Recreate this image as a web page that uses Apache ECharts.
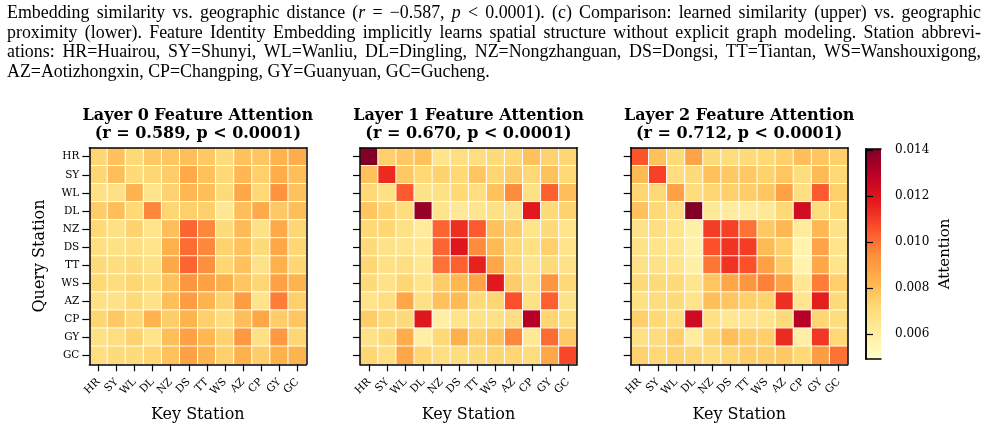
<!DOCTYPE html>
<html>
<head>
<meta charset="utf-8">
<script src="https://cdn.jsdelivr.net/npm/echarts@6/dist/echarts.min.js"></script>
<style>
  html, body { margin: 0; padding: 0; background: #fff; }
  #chart { width: 987px; height: 429px; }
</style>
</head>
<body>
<div id="chart"></div>
<script>
// station order (rows = query, cols = key)
const stations = ['HR', 'SY', 'WL', 'DL', 'NZ', 'DS', 'TT', 'WS', 'AZ', 'CP', 'GY', 'GC'];

const layerTitles = [
  'Layer 0 Feature Attention\n(r = 0.589, p < 0.0001)',
  'Layer 1 Feature Attention\n(r = 0.670, p < 0.0001)',
  'Layer 2 Feature Attention\n(r = 0.712, p < 0.0001)'
];

const layer0 = [
  [0.0073, 0.0079, 0.0072, 0.0077, 0.0078, 0.0080, 0.0077, 0.0071, 0.0079, 0.0078, 0.0083, 0.0085],
  [0.0073, 0.0080, 0.0071, 0.0073, 0.0076, 0.0086, 0.0079, 0.0072, 0.0082, 0.0075, 0.0085, 0.0080],
  [0.0068, 0.0068, 0.0083, 0.0066, 0.0074, 0.0082, 0.0080, 0.0071, 0.0087, 0.0072, 0.0093, 0.0079],
  [0.0076, 0.0080, 0.0072, 0.0096, 0.0073, 0.0075, 0.0075, 0.0064, 0.0080, 0.0086, 0.0077, 0.0080],
  [0.0072, 0.0068, 0.0074, 0.0066, 0.0080, 0.0102, 0.0096, 0.0071, 0.0081, 0.0068, 0.0086, 0.0073],
  [0.0069, 0.0068, 0.0069, 0.0066, 0.0084, 0.0101, 0.0096, 0.0074, 0.0079, 0.0071, 0.0087, 0.0073],
  [0.0071, 0.0070, 0.0071, 0.0068, 0.0087, 0.0102, 0.0094, 0.0073, 0.0079, 0.0067, 0.0084, 0.0073],
  [0.0072, 0.0070, 0.0073, 0.0070, 0.0079, 0.0092, 0.0089, 0.0084, 0.0078, 0.0073, 0.0089, 0.0083],
  [0.0068, 0.0067, 0.0071, 0.0067, 0.0080, 0.0090, 0.0083, 0.0074, 0.0090, 0.0066, 0.0098, 0.0075],
  [0.0073, 0.0077, 0.0073, 0.0083, 0.0076, 0.0083, 0.0075, 0.0070, 0.0080, 0.0087, 0.0076, 0.0078],
  [0.0068, 0.0069, 0.0074, 0.0066, 0.0080, 0.0089, 0.0082, 0.0074, 0.0091, 0.0068, 0.0091, 0.0073],
  [0.0069, 0.0071, 0.0071, 0.0073, 0.0079, 0.0089, 0.0083, 0.0075, 0.0084, 0.0076, 0.0084, 0.0083]
];

const layer1 = [
  [0.0140, 0.0075, 0.0077, 0.0079, 0.0066, 0.0069, 0.0069, 0.0071, 0.0072, 0.0079, 0.0074, 0.0073],
  [0.0079, 0.0114, 0.0077, 0.0072, 0.0074, 0.0072, 0.0078, 0.0073, 0.0076, 0.0072, 0.0079, 0.0072],
  [0.0072, 0.0068, 0.0104, 0.0067, 0.0068, 0.0072, 0.0069, 0.0079, 0.0095, 0.0068, 0.0103, 0.0080],
  [0.0078, 0.0074, 0.0070, 0.0136, 0.0066, 0.0063, 0.0065, 0.0068, 0.0067, 0.0118, 0.0071, 0.0074],
  [0.0072, 0.0073, 0.0068, 0.0062, 0.0102, 0.0113, 0.0104, 0.0079, 0.0076, 0.0066, 0.0071, 0.0066],
  [0.0071, 0.0067, 0.0066, 0.0064, 0.0102, 0.0119, 0.0095, 0.0081, 0.0072, 0.0068, 0.0075, 0.0066],
  [0.0073, 0.0068, 0.0069, 0.0064, 0.0100, 0.0103, 0.0116, 0.0087, 0.0072, 0.0066, 0.0071, 0.0067],
  [0.0071, 0.0067, 0.0073, 0.0066, 0.0076, 0.0082, 0.0088, 0.0118, 0.0076, 0.0068, 0.0092, 0.0072],
  [0.0066, 0.0069, 0.0087, 0.0068, 0.0079, 0.0081, 0.0071, 0.0073, 0.0106, 0.0068, 0.0103, 0.0067],
  [0.0076, 0.0072, 0.0071, 0.0119, 0.0060, 0.0066, 0.0067, 0.0068, 0.0069, 0.0130, 0.0073, 0.0070],
  [0.0067, 0.0071, 0.0085, 0.0060, 0.0072, 0.0084, 0.0075, 0.0079, 0.0096, 0.0063, 0.0101, 0.0077],
  [0.0073, 0.0069, 0.0087, 0.0073, 0.0069, 0.0070, 0.0071, 0.0073, 0.0073, 0.0070, 0.0087, 0.0108]
];

const layer2 = [
  [0.0105, 0.0079, 0.0071, 0.0088, 0.0071, 0.0070, 0.0071, 0.0072, 0.0075, 0.0080, 0.0078, 0.0075],
  [0.0081, 0.0109, 0.0069, 0.0071, 0.0079, 0.0077, 0.0077, 0.0074, 0.0078, 0.0070, 0.0081, 0.0072],
  [0.0073, 0.0072, 0.0089, 0.0070, 0.0073, 0.0075, 0.0076, 0.0078, 0.0089, 0.0069, 0.0104, 0.0075],
  [0.0079, 0.0072, 0.0069, 0.0140, 0.0063, 0.0061, 0.0062, 0.0063, 0.0072, 0.0123, 0.0070, 0.0072],
  [0.0067, 0.0069, 0.0066, 0.0059, 0.0110, 0.0109, 0.0100, 0.0077, 0.0082, 0.0062, 0.0082, 0.0067],
  [0.0067, 0.0066, 0.0065, 0.0058, 0.0106, 0.0112, 0.0110, 0.0081, 0.0075, 0.0057, 0.0088, 0.0066],
  [0.0067, 0.0067, 0.0066, 0.0059, 0.0099, 0.0112, 0.0106, 0.0089, 0.0076, 0.0057, 0.0087, 0.0066],
  [0.0071, 0.0071, 0.0071, 0.0065, 0.0078, 0.0087, 0.0092, 0.0097, 0.0088, 0.0064, 0.0098, 0.0075],
  [0.0068, 0.0070, 0.0071, 0.0066, 0.0080, 0.0078, 0.0075, 0.0074, 0.0113, 0.0065, 0.0117, 0.0071],
  [0.0075, 0.0072, 0.0069, 0.0124, 0.0068, 0.0064, 0.0065, 0.0066, 0.0071, 0.0130, 0.0073, 0.0070],
  [0.0068, 0.0070, 0.0075, 0.0061, 0.0073, 0.0080, 0.0076, 0.0075, 0.0114, 0.0060, 0.0111, 0.0072],
  [0.0074, 0.0072, 0.0074, 0.0073, 0.0070, 0.0073, 0.0076, 0.0076, 0.0077, 0.0072, 0.0090, 0.0100]
];

// colorbar range + ticks
const cbMin = 0.00493;
const cbMax = 0.01404;
const cbTicks = [0.006, 0.008, 0.010, 0.012, 0.014];

// YlOrRd
const ylorrd = ['#ffffcc', '#ffeda0', '#fed976', '#feb24c', '#fd8d3c', '#fc4e2a', '#e31a1c', '#bd0026', '#800026'];

// caption above the figure ({i|..} = italic)
const captionLines = [
  'Embedding similarity vs. geographic distance ({i|r} = −0.587, {i|p} < 0.0001). (c) Comparison: learned similarity (upper) vs. geographic',
  'proximity (lower).  Feature Identity Embedding implicitly learns spatial structure without explicit graph modeling.  Station abbrevi-',
  'ations: HR=Huairou, SY=Shunyi, WL=Wanliu, DL=Dingling, NZ=Nongzhanguan, DS=Dongsi, TT=Tiantan, WS=Wanshouxigong,',
  'AZ=Aotizhongxin, CP=Changping, GY=Guanyuan, GC=Gucheng.'
];

const SERIF = 'DejaVu Serif';
const CAP_FONT = 'Liberation Serif';

const chart = echarts.init(document.getElementById('chart'));

// --- caption layout (justified like the paper text) ---
const ctx = document.createElement('canvas').getContext('2d');
function measure(word, size) {
  let w = 0;
  word.split(/(\{i\|[^}]*\})/).forEach(function (seg) {
    if (!seg) return;
    const m = seg.match(/^\{i\|([^}]*)\}$/);
    ctx.font = (m ? 'italic ' : '') + size + 'px "' + CAP_FONT + '"';
    w += ctx.measureText(m ? m[1] : seg).width;
  });
  return w;
}
const capLeft = 7, capRight = 981;
ctx.font = '17px "' + CAP_FONT + '"';
const capSize = 17 * 483 / ctx.measureText(captionLines[3]).width;
const capY = [13, 33, 52.5, 72];
const captionGraphics = [];
captionLines.forEach(function (line, li) {
  const words = line.split(/\s+/);
  const widths = words.map(function (w) { return measure(w, capSize); });
  const total = widths.reduce(function (a, b) { return a + b; }, 0);
  const last = li === captionLines.length - 1;
  ctx.font = capSize + 'px "' + CAP_FONT + '"';
  const gap = last ? ctx.measureText(' ').width : (capRight - capLeft - total) / (words.length - 1);
  let x = capLeft;
  words.forEach(function (w, wi) {
    captionGraphics.push({
      type: 'text', x: x, y: capY[li], silent: true,
      style: {
        text: w, fill: '#000', fontFamily: CAP_FONT, fontSize: capSize,
        verticalAlign: 'middle', align: 'left',
        rich: { i: { fontFamily: CAP_FONT, fontSize: capSize, fontStyle: 'italic', fill: '#000' } }
      }
    });
    x += widths[wi] + gap;
  });
});

// --- heatmap panels ---
const layers = [layer0, layer1, layer2];
const gridLeft = [89.3, 360, 630.7];
const gridTop = 147.7, gridW = 217, gridH = 216.6;

const grids = [], xAxes = [], yAxes = [], series = [], titles = [];
const frameLine = { show: true, lineStyle: { color: '#000', width: 1.5 } };
const tickStyle = { show: true, length: 7, alignWithLabel: true, lineStyle: { color: '#000', width: 1.2 } };

layers.forEach(function (mat, k) {
  grids.push({ left: gridLeft[k], top: gridTop, width: gridW, height: gridH });
  titles.push({
    text: layerTitles[k], left: gridLeft[k] + gridW / 2, top: 107, textAlign: 'center', padding: 0,
    textStyle: { fontFamily: SERIF, fontWeight: 'bold', fontSize: 16, lineHeight: 18, color: '#000' }
  });
  xAxes.push({
    type: 'category', gridIndex: k, data: stations, position: 'bottom', z: 10,
    axisLine: frameLine, axisTick: tickStyle,
    axisLabel: { interval: 0, rotate: 45, fontFamily: SERIF, fontSize: 10.5, color: '#000', margin: 16 },
    splitLine: { show: false },
    name: 'Key Station', nameLocation: 'middle', nameGap: 43,
    nameTextStyle: { fontFamily: SERIF, fontSize: 16, color: '#000' }
  });
  xAxes.push({
    type: 'category', gridIndex: k, data: stations, position: 'top', z: 10,
    axisLine: frameLine, axisTick: { show: false }, axisLabel: { show: false }, splitLine: { show: false }
  });
  yAxes.push({
    type: 'category', gridIndex: k, data: stations, inverse: true, position: 'left', z: 10,
    axisLine: frameLine, axisTick: tickStyle,
    axisLabel: { show: k === 0, interval: 0, fontFamily: SERIF, fontSize: 10.5, color: '#000', margin: 10 },
    splitLine: { show: false },
    name: k === 0 ? 'Query Station' : '', nameLocation: 'middle', nameGap: 41, nameRotate: 90,
    nameTextStyle: { fontFamily: SERIF, fontSize: 16, color: '#000' }
  });
  yAxes.push({
    type: 'category', gridIndex: k, data: stations, inverse: true, position: 'right', z: 10,
    axisLine: frameLine, axisTick: { show: false }, axisLabel: { show: false }, splitLine: { show: false }
  });
  const data = [];
  mat.forEach(function (row, i) {
    row.forEach(function (v, j) { data.push([j, i, v]); });
  });
  series.push({
    type: 'heatmap', xAxisIndex: 2 * k, yAxisIndex: 2 * k, data: data,
    itemStyle: { borderColor: '#fff', borderWidth: 1 },
    emphasis: { disabled: true }
  });
});

// --- colorbar ---
grids.push({ left: 866, top: 149, width: 15, height: 210 });
xAxes.push({ type: 'value', gridIndex: 3, min: 0, max: 1, position: 'bottom', z: 10, axisLine: frameLine, axisTick: { show: false }, axisLabel: { show: false }, splitLine: { show: false } });
xAxes.push({ type: 'value', gridIndex: 3, min: 0, max: 1, position: 'top', z: 10, axisLine: frameLine, axisTick: { show: false }, axisLabel: { show: false }, splitLine: { show: false } });
yAxes.push({ type: 'value', gridIndex: 3, min: cbMin, max: cbMax, position: 'left', z: 10, axisLine: frameLine, axisTick: { show: false }, axisLabel: { show: false }, splitLine: { show: false } });
yAxes.push({
  type: 'value', gridIndex: 3, min: cbMin, max: cbMax, position: 'right', z: 10,
  axisLine: frameLine,
  axisTick: { show: true, length: 7, customValues: cbTicks, lineStyle: { color: '#000', width: 1.2 } },
  axisLabel: {
    show: true, customValues: cbTicks, margin: 14, fontFamily: SERIF, fontSize: 12, color: '#000',
    formatter: function (v) { return v.toFixed(3); }
  },
  splitLine: { show: false },
  name: 'Attention', nameLocation: 'middle', nameRotate: 90, nameGap: 57,
  nameTextStyle: { fontFamily: SERIF, fontSize: 15, color: '#000' }
});
series.push({
  type: 'custom', xAxisIndex: 6, yAxisIndex: 7, data: [[0, cbMin]], clip: false, silent: true,
  renderItem: function (params, api) {
    const p0 = api.coord([0, cbMax]);
    const p1 = api.coord([1, cbMin]);
    return {
      type: 'rect',
      shape: { x: p0[0], y: p0[1], width: p1[0] - p0[0], height: p1[1] - p0[1] },
      style: {
        fill: new echarts.graphic.LinearGradient(0, 1, 0, 0, ylorrd.map(function (c, i) {
          return { offset: i / (ylorrd.length - 1), color: c };
        }))
      }
    };
  }
});

chart.setOption({
  animation: false,
  backgroundColor: '#fff',
  title: titles,
  grid: grids,
  xAxis: xAxes,
  yAxis: yAxes,
  visualMap: {
    type: 'continuous', show: false, min: cbMin, max: cbMax, seriesIndex: [0, 1, 2],
    inRange: { color: ylorrd }
  },
  graphic: captionGraphics,
  series: series
});
</script>
</body>
</html>
